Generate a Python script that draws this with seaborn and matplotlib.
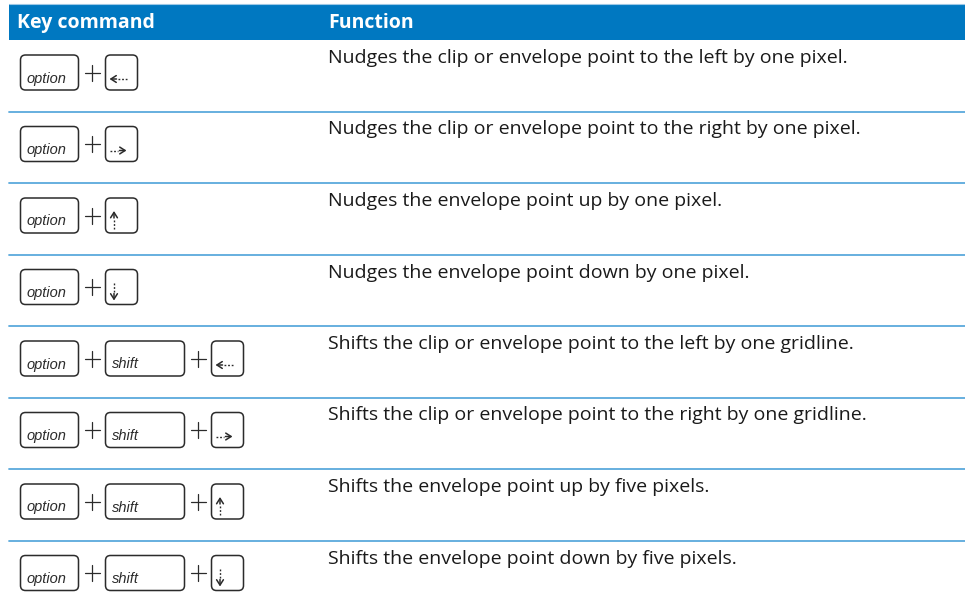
import matplotlib
matplotlib.use("Agg")
import matplotlib.pyplot as plt
from matplotlib.patches import FancyBboxPatch, Rectangle
import seaborn as sns

# Table content
HEADERS = ["Key command", "Function"]
KEY_COMBOS = [
    ["option", "left"],
    ["option", "right"],
    ["option", "up"],
    ["option", "down"],
    ["option", "shift", "left"],
    ["option", "shift", "right"],
    ["option", "shift", "up"],
    ["option", "shift", "down"],
]
DESCRIPTIONS = [
    "Nudges the clip or envelope point to the left by one pixel.",
    "Nudges the clip or envelope point to the right by one pixel.",
    "Nudges the envelope point up by one pixel.",
    "Nudges the envelope point down by one pixel.",
    "Shifts the clip or envelope point to the left by one gridline.",
    "Shifts the clip or envelope point to the right by one gridline.",
    "Shifts the envelope point up by five pixels.",
    "Shifts the envelope point down by five pixels.",
]

# Layout (pixel space)
W, H = 965, 609
HEADER_TOP, HEADER_BOTTOM = 4, 40
ROW_H = 71.5
COL2_X = 328
KEY_W = {"option": 58, "shift": 79, "arrow": 32}
KEY_H = 35
GAP = 27

BLUE = "#0078c1"
SEP = "#5aa9dc"
INK = "#2b2b2b"

sns.set_theme(style="white")
plt.rcParams["font.family"] = ["Open Sans", "DejaVu Sans"]

fig = plt.figure(figsize=(W / 100, H / 100), dpi=100)
ax = fig.add_axes([0, 0, 1, 1])
ax.set_xlim(0, W)
ax.set_ylim(H, 0)
ax.axis("off")

# header
ax.add_patch(Rectangle((9, HEADER_TOP), W - 9, HEADER_BOTTOM - HEADER_TOP,
                       color=BLUE, lw=0))
ax.plot([9, W], [HEADER_TOP - 0.5, HEADER_TOP - 0.5], color="#9cc8e6", lw=0.8)
hy = (HEADER_TOP + HEADER_BOTTOM) / 2 + 1
ax.text(17, hy, HEADERS[0], color="white", fontsize=14, fontweight="bold",
        va="center", ha="left")
ax.text(COL2_X, hy, HEADERS[1], color="white", fontsize=14, fontweight="bold",
        va="center", ha="left")

ARROW_KW = dict(arrowstyle="->,head_length=0.55,head_width=0.35", color=INK,
                lw=1.1, mutation_scale=7, shrinkA=0, shrinkB=0)
DOTS = (0, (1.3, 1.3))


def draw_arrow(x0, y0, direction):
    # arrow glyph inside a key box, box top-left is (x0, y0)
    if direction in ("left", "right"):
        y = y0 + 24
        xa, xb = x0 + 4, x0 + 21
        if direction == "left":
            ax.annotate("", xy=(xa, y), xytext=(xa + 7, y), arrowprops=ARROW_KW)
            ax.plot([xa + 8.5, xb], [y, y], color=INK, lw=1.0, ls=DOTS)
        else:
            ax.plot([xa, xb - 8.5], [y, y], color=INK, lw=1.0, ls=DOTS)
            ax.annotate("", xy=(xb, y), xytext=(xb - 7, y), arrowprops=ARROW_KW)
    else:
        x = x0 + 8.5
        ya, yb = y0 + 13, y0 + 31
        if direction == "up":
            ax.annotate("", xy=(x, ya), xytext=(x, ya + 7), arrowprops=ARROW_KW)
            ax.plot([x, x], [ya + 8.5, yb], color=INK, lw=1.0, ls=DOTS)
        else:
            ax.plot([x, x], [ya, yb - 8.5], color=INK, lw=1.0, ls=DOTS)
            ax.annotate("", xy=(x, yb), xytext=(x, yb - 7), arrowprops=ARROW_KW)


def draw_key(x0, y0, name):
    kind = name if name in KEY_W else "arrow"
    w = KEY_W[kind]
    ax.add_patch(FancyBboxPatch((x0, y0), w, KEY_H,
                                boxstyle="round,pad=0,rounding_size=5",
                                fc="white", ec=INK, lw=1.1))
    if kind == "arrow":
        draw_arrow(x0, y0, name)
    else:
        ax.text(x0 + 6, y0 + KEY_H - 7.5, name, fontsize=10.5, style="italic",
                color=INK, ha="left", va="baseline",
                family=["Liberation Sans Narrow", "Liberation Sans"])
    return x0 + w


for i, (keys, desc) in enumerate(zip(KEY_COMBOS, DESCRIPTIONS)):
    top = HEADER_BOTTOM + i * ROW_H
    ky = top + 15
    x = 20.5
    for j, k in enumerate(keys):
        if j > 0:
            # plus sign between keys
            cx, cy = x + GAP / 2, ky + KEY_H / 2
            ax.plot([cx - 7.5, cx + 7.5], [cy, cy], color=INK, lw=0.9)
            ax.plot([cx, cx], [cy - 8, cy + 8], color=INK, lw=0.9)
            x += GAP
        x = draw_key(x, ky, k)
    ax.text(COL2_X, top + 18, desc, fontsize=14, color="#1a1a1a",
            ha="left", va="center")
    if i < len(KEY_COMBOS) - 1:
        sy = top + ROW_H
        ax.plot([9, W], [sy, sy], color=SEP, lw=1.3)

fig.savefig("out.png", dpi=100)
